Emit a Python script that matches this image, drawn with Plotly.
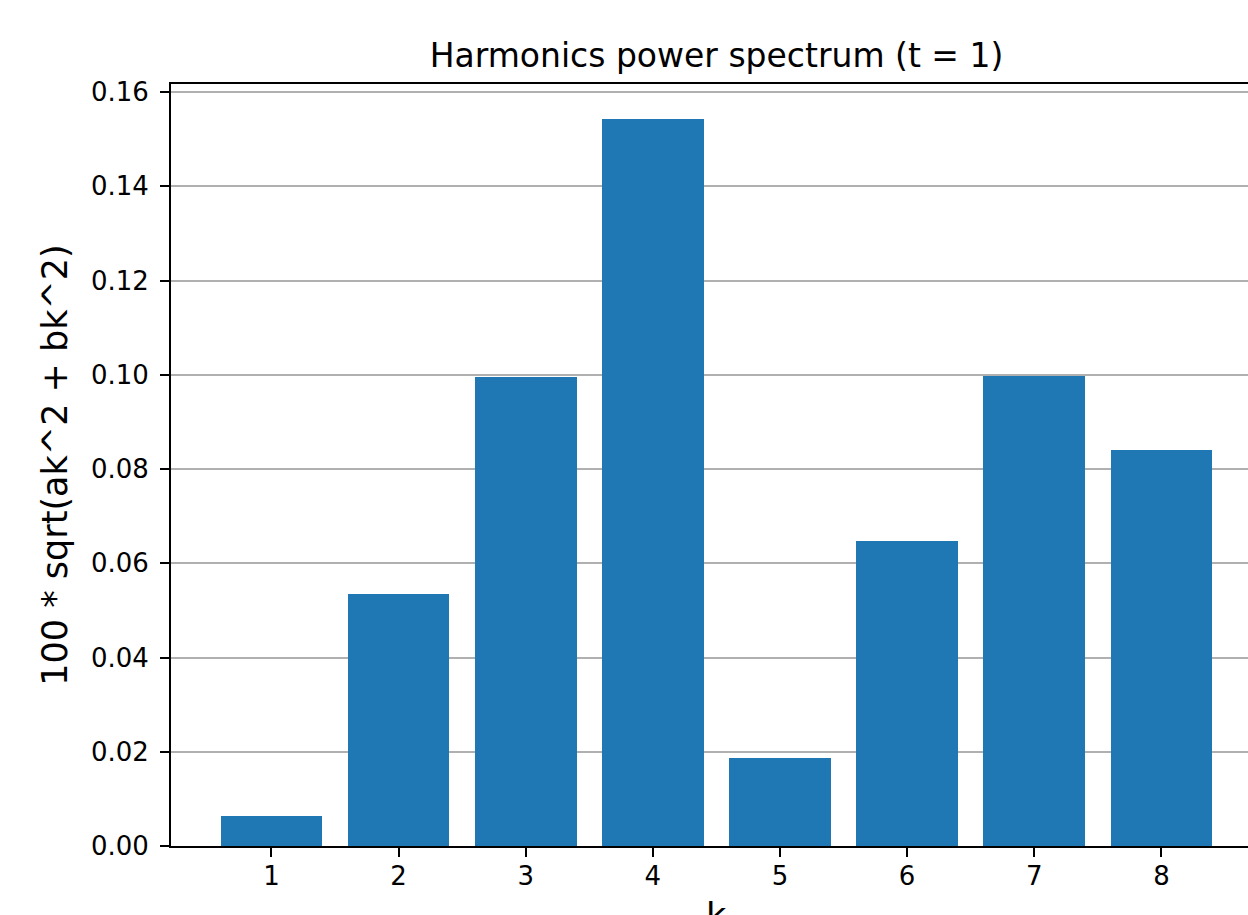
import plotly.graph_objects as go

k_values = [1, 2, 3, 4, 5, 6, 7, 8]
amplitudes = [0.0064, 0.0535, 0.0995, 0.1543, 0.0187, 0.0647, 0.0997, 0.0840]
y_ticks = [0.00, 0.02, 0.04, 0.06, 0.08, 0.10, 0.12, 0.14, 0.16]
y_tick_labels = ["0.00", "0.02", "0.04", "0.06", "0.08", "0.10", "0.12", "0.14", "0.16"]

FONT = "DejaVu Sans"

fig = go.Figure()
fig.add_trace(go.Bar(
    x=k_values, y=amplitudes, width=0.8,
    marker=dict(color="#1f77b4", line=dict(width=0)),
))

fig.update_layout(
    width=1248, height=915,
    margin=dict(l=171, r=0, t=84, b=69, pad=0),
    paper_bgcolor="white", plot_bgcolor="white",
    showlegend=False,
    font=dict(family=FONT, color="black"),
    title=dict(text="Harmonics power spectrum (t = 1)", x=(716.5 / 1248), xanchor="center",
               y=1 - 55 / 915, yanchor="middle", font=dict(size=33, family=FONT, color="black")),
    bargap=0,
)
fig.update_xaxes(
    range=[0.21, 8.681], tickvals=k_values, ticktext=[str(v) for v in k_values],
    showgrid=False, zeroline=False,
    showline=True, linecolor="black", linewidth=2, mirror=True,
    ticks="outside", ticklen=9, tickwidth=2, tickcolor="black",
    ticklabelstandoff=-3,
    tickfont=dict(size=26, family=FONT, color="black"),
)
fig.update_yaxes(
    range=[0, 0.1617], tickvals=y_ticks, ticktext=y_tick_labels,
    showgrid=True, gridcolor="#b0b0b0", gridwidth=2, zeroline=False,
    showline=True, linecolor="black", linewidth=2, mirror=False,
    ticks="outside", ticklen=9, tickwidth=2, tickcolor="black",
    ticklabelstandoff=6,
    tickfont=dict(size=26, family=FONT, color="black"),
    title=dict(text="100 * sqrt(ak^2 + bk^2)", font=dict(size=35, family=FONT, color="black"), standoff=13),
)
fig.add_annotation(
    text="k", x=4.5, xref="x", y=0, yref="paper", yanchor="top", xanchor="center",
    yshift=-48, showarrow=False, font=dict(size=35, family=FONT, color="black"),
)

fig.write_html("out.html")
